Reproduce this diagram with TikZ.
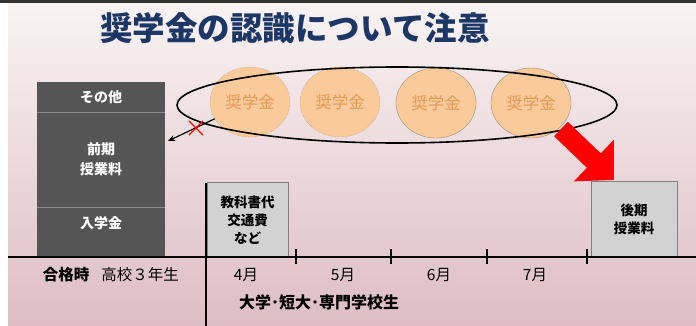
\documentclass[tikz,border=0pt]{standalone}
\usepackage{fontspec}
\setmainfont{Noto Sans CJK JP}
\usetikzlibrary{arrows.meta,calc,shapes.geometric}
\definecolor{navy}{HTML}{1C3766}
\definecolor{colgray}{HTML}{555555}
\definecolor{boxgray}{HTML}{D2D2D2}
\definecolor{coin}{HTML}{FBCA9B}
\definecolor{cointext}{HTML}{E39A55}
\definecolor{coinline}{HTML}{A88C70}
\definecolor{bgtop}{HTML}{F9F3F4}
\definecolor{bgbottom}{HTML}{DEBDC5}
\tikzstyle{section}=[rectangle,fill=colgray,draw=none,inner sep=0pt,minimum width=128pt]
\tikzstyle{coltext}=[text=white,font=\fontsize{14}{20}\selectfont\bfseries,align=center]
\tikzstyle{costbox}=[rectangle,fill=boxgray,draw=gray,inner sep=0pt,font=\fontsize{13.5}{18}\selectfont\bfseries,align=center]
\tikzstyle{coin}=[ellipse,fill=coin,inner sep=0pt,minimum width=80pt,minimum height=70pt,text=cointext,font=\fontsize{16.5}{18}\selectfont]
\tikzstyle{month}=[font=\fontsize{15.5}{17}\selectfont]

\begin{document}
\begin{tikzpicture}[x=1pt,y=-1pt]
			\useasboundingbox (0,0) rectangle (696,326);
			\shade [top color=bgtop,bottom color=bgbottom] (8,3) rectangle (696,326);
			\draw [line width=3pt,black!80] (0,1.5) -- (696,1.5);
			
			\node (title) at (295,28) [text=navy,font=\fontsize{32.5}{35}\selectfont\bfseries] {奨学金の認識について注意};
			
			% left column
			\node (sonota) at (101,97) [section,minimum height=30pt] {};
			\node (zenki) at (101,159.5) [section,minimum height=95pt] {};
			\node (nyugaku) at (101,232) [section,minimum height=50pt] {};
			\draw [black!45,line width=1pt] (sonota.south west) -- (sonota.south east);
			\draw [black!45,line width=1pt] (zenki.south west) -- (zenki.south east);
			\node (t1) at (101,97) [coltext] {その他};
			\node (t2) at (101,159) [coltext] {前期\\授業料};
			\node (t3) at (101,223) [coltext] {入学金};
			
			% cost boxes
			\node (kyoka) at (247.5,220) [costbox,minimum width=81pt,minimum height=75pt] {教科書代\\交通費\\など};
			\node (koki) at (634,219.5) [costbox,minimum width=86pt,minimum height=76pt] {後期\\授業料};
			
			% timeline
			\coordinate (lineL) at (8,257);
			\coordinate (lineR) at (696,257);
			\coordinate (splitT) at (206,183);
			\coordinate (splitB) at (206,326);
			\draw [line width=1.6pt] (lineL) -- (lineR);
			\draw [line width=1.6pt] (splitT) -- (splitB);
			\foreach \x in {296,391,487,587}
				\draw [line width=1.2pt] (\x,249) -- (\x,264);
			
			\node (gokaku) at (66,275) [month,font=\fontsize{15.5}{17}\selectfont\bfseries] {合格時};
			\node (koko) at (140,275) [month] {高校３年生};
			\node (m4) at (246,275) [month] {4月};
			\node (m5) at (343,275) [month] {5月};
			\node (m6) at (439,275) [month] {6月};
			\node (m7) at (535,275) [month] {7月};
			\node (gakusei) at (319,302) [month,font=\fontsize{16}{18}\selectfont\bfseries] {大学･短大･専門学校生};
			
			% scholarships
			\node (c1) at (250,102) [coin,draw=coinline,densely dotted] {奨学金};
			\node (c2) at (340,102) [coin,draw=coinline,densely dotted] {奨学金};
			\node (c3) at (436,103) [coin,draw=coinline] {奨学金};
			\node (c4) at (531,103) [coin,draw=coinline] {奨学金};
			\node (ring) at (397,105) [ellipse,draw=black,line width=1.6pt,minimum width=440pt,minimum height=76pt,inner sep=0pt] {};
			
			% arrows
			\coordinate (wrongtip) at (168,141);
			\draw [-{Stealth[length=7pt,width=6pt]},line width=1.2pt] (c1) -- (wrongtip);
			\coordinate (cross) at (196,128);
			\draw [red,line width=1.3pt] ($(cross)+(-7,-7)$) -- ($(cross)+(7,7)$);
			\draw [red,line width=1.3pt] ($(cross)+(-7,7)$) -- ($(cross)+(7,-7)$);
			\coordinate (redfrom) at (561,129);
			\coordinate (redto) at (614,180);
			\draw [red,line width=20pt,-{Triangle[length=28pt,width=56pt]}] (redfrom) -- (redto);
		\end{tikzpicture}
\end{document}
